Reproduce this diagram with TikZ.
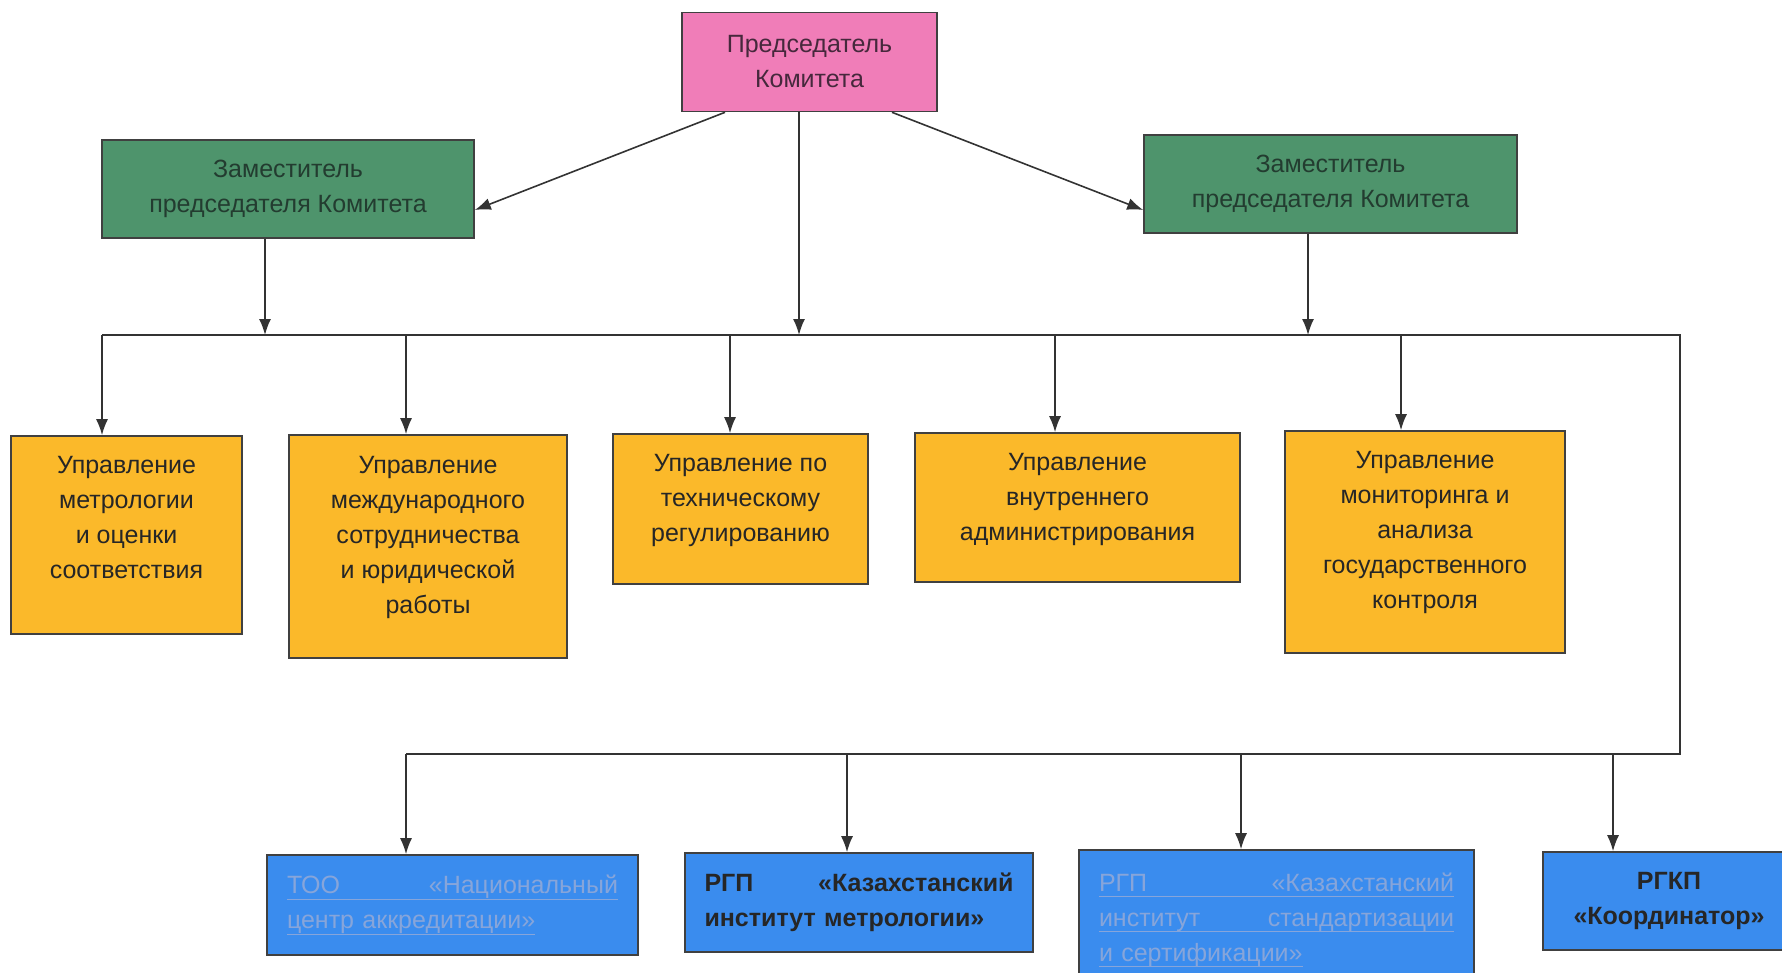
\documentclass[tikz,border=0pt]{standalone}
\usepackage{fontspec}
\setmainfont{Liberation Sans}
\usetikzlibrary{arrows.meta}

\definecolor{chairpink}{RGB}{240,125,184}
\definecolor{chairtext}{RGB}{70,40,60}
\definecolor{deputygreen}{RGB}{78,148,108}
\definecolor{deputytext}{RGB}{35,60,48}
\definecolor{officeorange}{RGB}{251,185,42}
\definecolor{firmblue}{RGB}{58,140,238}
\definecolor{fadedtext}{RGB}{135,165,218}

% full-width line, words spread, underlined
\newcommand{\spreadline}[1]{\makebox[\linewidth]{\rlap{\rule[-6pt]{\linewidth}{1.2pt}}#1}}
% plain underlined line
\newcommand{\ulline}[1]{\leavevmode\setbox0\hbox{#1}\rlap{\rule[-6pt]{\wd0}{1.2pt}}\box0}

\begin{document}
\begin{tikzpicture}[x=1pt,y=-1pt,
    box/.style={draw=black!75, line width=1.6pt, align=center, inner sep=0pt,
        font=\fontsize{25}{35}\selectfont, text=black!85},
    chief/.style={box, fill=chairpink, text=chairtext},
    deputy/.style={box, fill=deputygreen, text=deputytext},
    office/.style={box, fill=officeorange},
    firm/.style={box, fill=firmblue, align=left},
    link/.style={draw=black!80, line width=1.6pt},
    arr/.style={link, -{Latex[length=16pt,width=12pt]}}]
    \useasboundingbox (0,0) rectangle (1782,972);
    % leadership
    \node[chief, minimum width=255pt, minimum height=99pt] (chair) at (809.5,62) {Председатель\\Комитета};
    \node[deputy, minimum width=372pt, minimum height=98pt] (dep1) at (288,189) {Заместитель\\председателя Комитета};
    \node[deputy, minimum width=373pt, minimum height=98pt] (dep2) at (1330.5,184) {Заместитель\\председателя Комитета};
    % departments (the empty last line lifts the text)
    \node[office, minimum width=231pt, minimum height=198pt] (o1) at (126.5,535) {Управление\\метрологии\\и оценки\\соответствия\\[0pt]\mbox{}};
    \node[office, minimum width=278pt, minimum height=223pt] (o2) at (428,546.5) {Управление\\международного\\сотрудничества\\и юридической\\работы\\[-12pt]\mbox{}};
    \node[office, minimum width=255pt, minimum height=150pt] (o3) at (740.5,509) {Управление по\\техническому\\регулированию\\[-13pt]\mbox{}};
    \node[office, minimum width=325pt, minimum height=149pt] (o4) at (1077.5,507.5) {Управление\\внутреннего\\администрирования\\[-13pt]\mbox{}};
    \node[office, minimum width=280pt, minimum height=222pt] (o5) at (1425,542) {Управление\\мониторинга и\\анализа\\государственного\\контроля\\[-11pt]\mbox{}};
    % subordinate organisations
    \node[firm, minimum width=371pt, minimum height=100pt, text width=331pt, text=fadedtext] (b1) at (452.5,905)
        {\spreadline{ТОО\hfill«Национальный}\\\ulline{центр аккредитации»}};
    \node[firm, minimum width=348pt, minimum height=99pt, text width=309pt, font=\fontsize{25}{35}\selectfont\bfseries] (b2) at (859,902.5)
        {\makebox[\linewidth]{РГП\hfill«Казахстанский}\\институт метрологии»};
    \node[firm, minimum width=395pt, minimum height=140pt, text width=355pt, text=fadedtext] (b3) at (1276.5,920)
        {\spreadline{РГП\hfill«Казахстанский}\\\spreadline{институт\hfill стандартизации}\\\ulline{и сертификации»}};
    \node[firm, align=center, minimum width=252pt, minimum height=98pt, font=\fontsize{25}{35}\selectfont\bfseries] (b4) at (1669,901)
        {РГКП\\«Координатор»};
    % buses
    \coordinate (busW) at (102,335);
    \coordinate (busE) at (1680,335);
    \coordinate (lowE) at (1680,754);
    \coordinate (lowW) at (406,754);
    \draw[link] (busW) -- (busE) -- (lowE) -- (lowW);
    % arrows
    \draw[arr] ([xshift=-84.5pt]chair.south) -- ([yshift=-21pt]dep1.east);
    \draw[arr] ([xshift=82.5pt]chair.south) -- ([yshift=-26pt]dep2.west);
    \foreach \n/\s in {chair/-10.5, dep1/-23, dep2/-22.5}
        \draw[arr] ([xshift=\s pt]\n.south) -- ([xshift=\s pt]\n.south |- busW);
    \foreach \n/\s in {o1/-24.5, o2/-22, o3/-10.5, o4/-22.5, o5/-24}
        \draw[arr] ([xshift=\s pt]\n.north |- busW) -- ([xshift=\s pt]\n.north);
    \foreach \n/\s in {b1/-46.5, b2/-12, b3/-35.5, b4/-56}
        \draw[arr] ([xshift=\s pt]\n.north |- lowW) -- ([xshift=\s pt]\n.north);
\end{tikzpicture}
\end{document}
